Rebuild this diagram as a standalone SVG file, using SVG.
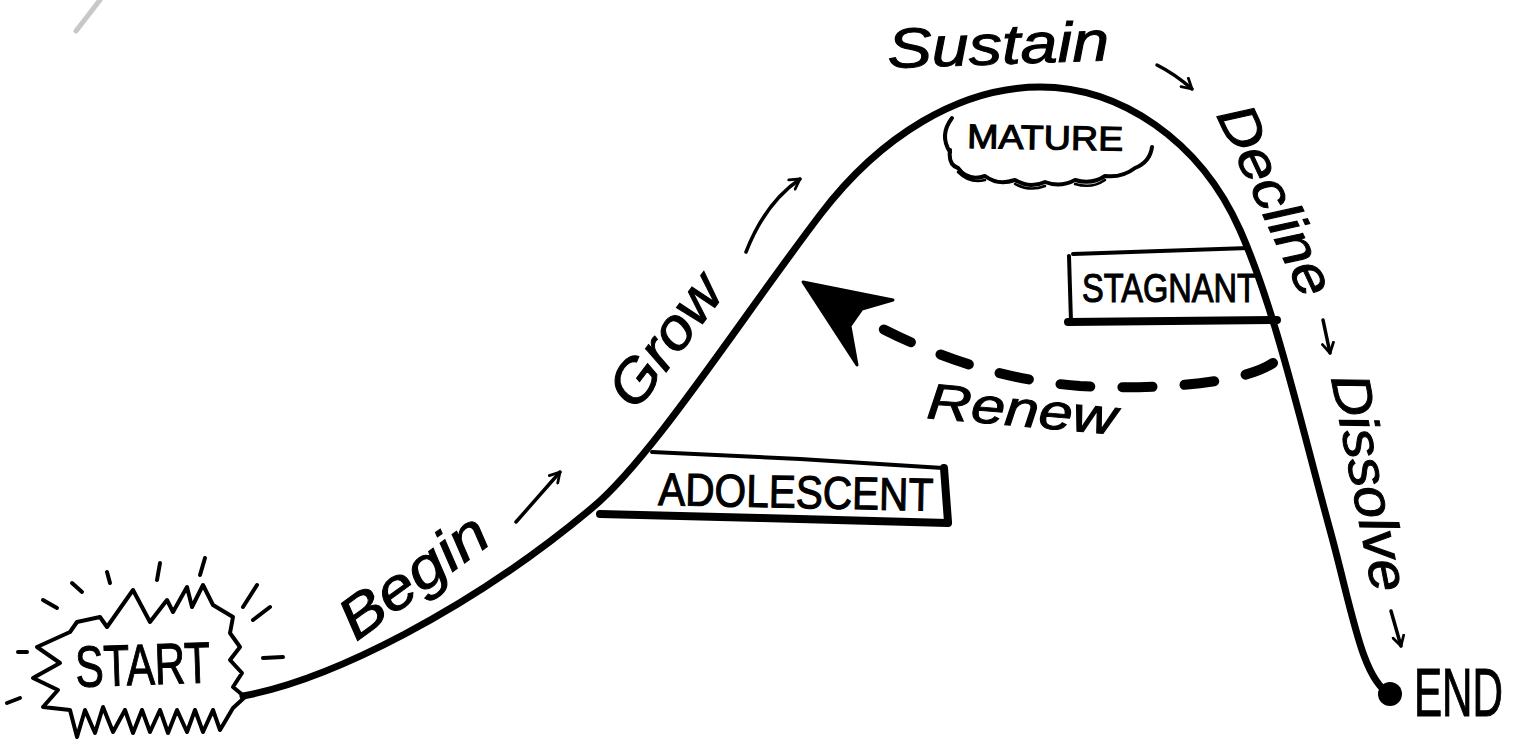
<svg xmlns="http://www.w3.org/2000/svg" width="1516" height="746" viewBox="0 0 1516 746">
<defs>
<style>
.curve{fill:none;stroke:#000;stroke-width:7;stroke-linecap:round;stroke-linejoin:round}
.ink{fill:none;stroke:#000;stroke-width:4;stroke-linecap:round;stroke-linejoin:round}
.thick{fill:none;stroke:#000;stroke-width:8;stroke-linecap:round;stroke-linejoin:round}
.small{fill:none;stroke:#000;stroke-width:3.5;stroke-linecap:round;stroke-linejoin:round}
.script{font-family:"Liberation Sans","DejaVu Sans",sans-serif;font-style:italic;fill:#000;stroke:#000;stroke-width:1}
.caps{font-family:"Liberation Sans","DejaVu Sans",sans-serif;fill:#000;stroke:#000;stroke-width:1.1}
</style>
<marker id="ah" viewBox="0 0 10 10" refX="8" refY="5" markerWidth="4" markerHeight="4" orient="auto" markerUnits="strokeWidth">
<path d="M1,1 L8,5 L1,9" fill="none" stroke="#000" stroke-width="2" stroke-linecap="round" stroke-linejoin="round"/>
</marker>
</defs>
<rect width="1516" height="746" fill="#fff"/>
<line x1="100" y1="0" x2="76" y2="31" stroke="#c8c8c8" stroke-width="5" stroke-linecap="round"/>

<g id="connectors">
<path class="curve" d="M243,696 C330,680 470,610 592,508 C652,458 740,320 820,215 C880,136 960,87 1040,87 C1120,87 1200,140 1240,230 C1275,309 1300,420 1330,530 C1352,610 1362,680 1390,694"/>
<path d="M1273,363 C1240,385 1150,390 1080,386 C1000,380 930,355 862,318" fill="none" stroke="#000" stroke-width="10" stroke-linecap="round" stroke-dasharray="30 32"/>
<polygon points="803,282 893,300 862,309 850,326 857,365" fill="#000" stroke="#000" stroke-width="3" stroke-linejoin="round"/>
<path class="small" d="M516,522 L560,472" marker-end="url(#ah)"/>
<path class="small" d="M746,252 Q765,203 800,179" marker-end="url(#ah)"/>
<path class="small" d="M1157,65 Q1175,74 1192,89" marker-end="url(#ah)"/>
<path class="small" d="M1323,320 L1330,353" marker-end="url(#ah)"/>
<path class="small" d="M1391,611 L1401,646" marker-end="url(#ah)"/>
</g>

<g id="node-start">
<path class="ink" d="M245,697 L233,708 L220,730 L213,710 L203,732 L195,710 L187,732 L177,710 L168,733 L160,710 L150,732 L142,710 L133,733 L125,710 L113,732 L103,707 L95,733 L85,710 L77,737 L70,710 L43,707 L58,690 L33,678 L60,663 L37,647 L70,632 L77,622 L100,617 L107,627 L133,590 L150,622 L167,600 L173,612 L187,587 L192,607 L203,585 L213,605 L233,617 L230,633 L240,647 L230,660 L242,673 L233,687 Z"/>
<g class="ink">
<line x1="43" y1="600" x2="57" y2="608"/>
<line x1="72" y1="583" x2="82" y2="592"/>
<line x1="107" y1="572" x2="110" y2="583"/>
<line x1="160" y1="563" x2="157" y2="580"/>
<line x1="205" y1="558" x2="200" y2="575"/>
<line x1="257" y1="585" x2="243" y2="607"/>
<line x1="270" y1="607" x2="253" y2="620"/>
<line x1="263" y1="658" x2="283" y2="657"/>
<line x1="18" y1="652" x2="27" y2="652"/>
<line x1="7" y1="703" x2="20" y2="698"/>
</g>
<text class="caps" transform="translate(76,687) rotate(-2)" font-size="58" textLength="135" lengthAdjust="spacingAndGlyphs">START</text>
</g>

<g id="node-adolescent">
<path class="ink" d="M652,452 L800,459 L943,468"/>
<path class="thick" d="M944,468 L948,522"/>
<path class="thick" d="M600,514 L760,518 L948,523"/>
<text class="caps" transform="translate(658,505) rotate(1.2)" font-size="46" textLength="275" lengthAdjust="spacingAndGlyphs">ADOLESCENT</text>
</g>

<g id="node-mature">
<path class="ink" d="M952,118 Q939,135 950,152"/>
<path class="ink" d="M950,150 Q948,165 958,168 Q968,182 985,176 Q998,186 1015,180 Q1030,189 1045,182 Q1060,188 1075,180 Q1092,185 1105,176 Q1122,178 1135,168 Q1150,162 1152,147"/>
<path d="M958,172 Q970,184 985,180 M1015,184 Q1030,192 1045,186 M1075,184 Q1092,189 1105,180" fill="none" stroke="#000" stroke-width="2.5" stroke-linecap="round"/>
<text class="caps" transform="translate(967,148) rotate(1)" font-size="34" textLength="156" lengthAdjust="spacingAndGlyphs">MATURE</text>
</g>

<g id="node-stagnant">
<path class="ink" d="M1073,254 L1160,251 L1249,248"/>
<path class="ink" d="M1069,256 L1071,322"/>
<path class="thick" d="M1068,322 L1277,320"/>
<text class="caps" transform="translate(1082,302)" font-size="40" textLength="175" lengthAdjust="spacingAndGlyphs">STAGNANT</text>
</g>

<g id="node-end">
<circle cx="1390" cy="694" r="12" fill="#000"/>
<text class="caps" transform="translate(1414,716) scale(0.62,1)" font-size="68">END</text>
</g>

<g id="labels">
<text class="script" transform="translate(356,642) rotate(-36)" font-size="58" textLength="170" lengthAdjust="spacingAndGlyphs">Begin</text>
<text class="script" transform="translate(636,412) rotate(-53)" font-size="58" textLength="150" lengthAdjust="spacingAndGlyphs">Grow</text>
<text class="script" transform="translate(888,68) rotate(-2)" font-size="56" textLength="222" lengthAdjust="spacingAndGlyphs">Sustain</text>
<text class="script" transform="translate(1216,115) rotate(65)" font-size="54" textLength="205" lengthAdjust="spacingAndGlyphs">Decline</text>
<text class="script" transform="translate(1331,378) rotate(79)" font-size="54" textLength="220" lengthAdjust="spacingAndGlyphs">Dissolve</text>
<text class="script" transform="translate(926,418) rotate(5)" font-size="50" textLength="190" lengthAdjust="spacingAndGlyphs">Renew</text>
</g>
</svg>
